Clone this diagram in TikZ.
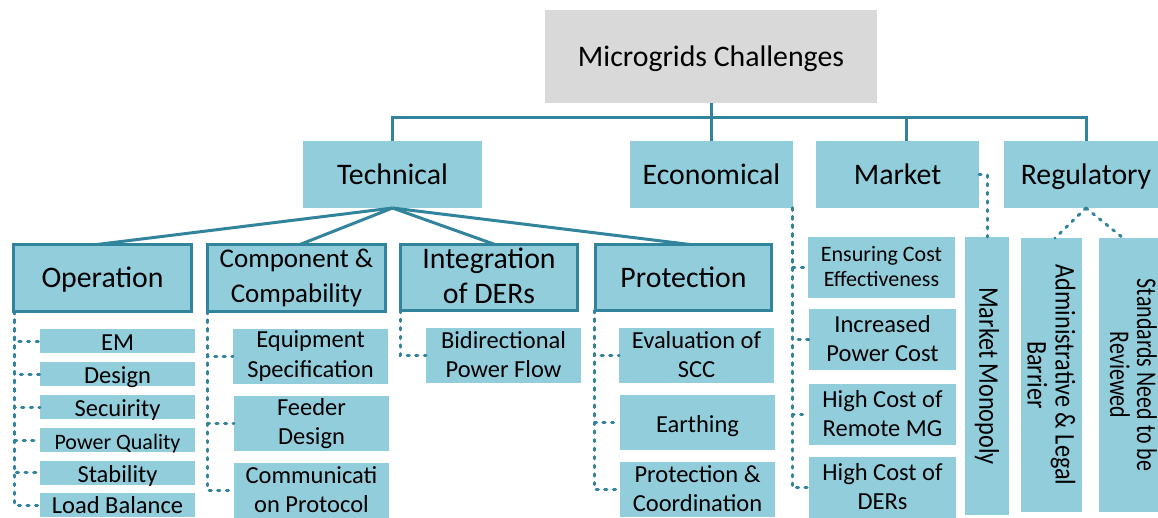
\documentclass[tikz,border=0pt]{standalone}
\usepackage{fontspec}
\setmainfont{Carlito}
\newfontfamily\condfont[FakeStretch=0.85]{Carlito}
\newfontfamily\condfontb[FakeStretch=0.77]{Carlito}
\definecolor{boxfill}{HTML}{92CDDC}
\definecolor{linec}{HTML}{31849B}
\definecolor{rootfill}{HTML}{D9D9D9}
\begin{document}
\begin{tikzpicture}[x=1pt,y=-1pt,
  box/.style={fill=boxfill, inner sep=0pt, outer sep=0pt, align=center, text=black},
  bbox/.style={box, draw=linec, line width=3pt},
  tree/.style={draw=linec, line width=3pt},
  dsh/.style={draw=linec, line width=3pt, line cap=round, dash pattern=on 2.2pt off 6.4pt},
  fA/.style={font=\fontsize{29.8}{35}\selectfont},
  fB/.style={font=\fontsize{27}{35}\selectfont},
  fC/.style={font=\fontsize{24.5}{29.5}\selectfont},
  fD/.style={font=\fontsize{22}{25.5}\selectfont},
  sgl/.style={text height=19pt, text depth=0pt},
  st/.style 2 args={execute at begin node={\rule{0pt}{#1}}, execute at end node={\rule[-#2]{0pt}{0pt}}},
  lvone/.style={box, fA, sgl, minimum height=67pt},
  itone/.style={box, fC, sgl, minimum width=155pt, minimum height=24pt},
  ittwo/.style={box, fC, st={19pt}{2pt}, minimum width=155pt, minimum height=55pt},
  ecbase/.style={box, minimum width=147pt, minimum height=61pt},
  vt/.style={box, rotate=-90, font=\condfont\fontsize{28.5}{28}\selectfont},
]
\useasboundingbox (0,0) rectangle (1158,517);

% root and first level
\node[box, fill=rootfill, fA, sgl, minimum width=332pt, minimum height=93pt] (root) at (711,56.5) {Microgrids Challenges};
\node[lvone, minimum width=179pt] (tech) at (392.5,174.5) {Technical};
\node[lvone, minimum width=163pt] (econ) at (711.5,174.5) {Economical};
\node[lvone, minimum width=163pt] (mkt) at (897.5,174.5) {Market};
\node[lvone, minimum width=164pt] (reg) at (1086,174.5) {Regulatory};

% technical second level
\node[bbox, fA, sgl, minimum width=178pt, minimum height=67pt] (op) at (102.5,278) {Operation};
\node[bbox, fB, minimum width=178pt, minimum height=67pt] (comp) at (296.5,278) {Component \&\\Compability};
\node[bbox, fA, st={0pt}{4pt}, minimum width=177pt, minimum height=66pt] (integ) at (489,277.5) {Integration\\of DERs};
\node[bbox, fA, sgl, minimum width=176pt, minimum height=66pt] (prot) at (683.5,277.5) {Protection};

% operation items
\node[itone] (em) at (117.5,341) {EM};
\node[itone] (des) at (117.5,374) {Design};
\node[itone] (sec) at (117.5,407) {Secuirity};
\node[itone, fD] (pq) at (117.5,440) {Power Quality};
\node[itone] (stab) at (117.5,472.5) {Stability};
\node[itone, text height=17pt] (lb) at (117.5,505) {Load Balance};

% component items
\node[ittwo] (eqs) at (310.5,356) {Equipment\\Specification};
\node[ittwo] (fdr) at (311.5,423.5) {Feeder\\Design};
\node[ittwo] (com) at (311.5,490.5) {Communicati\\on Protocol};

% integration item
\node[ittwo] (bid) at (503.5,355.5) {Bidirectional\\Power Flow};

% protection items
\node[ittwo] (eva) at (696.5,355.5) {Evaluation of\\SCC};
\node[itone, minimum height=55pt] (ear) at (697.5,422.5) {Earthing};
\node[ittwo] (pco) at (697.5,489.5) {Protection \&\\Coordination};

% economical items
\node[ecbase, fD, st={16pt}{2pt}] (ens) at (881.5,267.5) {Ensuring Cost\\Effectiveness};
\node[ecbase, fC, st={19pt}{2pt}] (inc) at (882.5,339.5) {Increased\\Power Cost};
\node[ecbase, fC, st={19pt}{2pt}] (hcr) at (882.5,414.5) {High Cost of\\Remote MG};
\node[ecbase, fC, st={19pt}{2pt}] (hcd) at (882.5,487.5) {High Cost of\\DERs};

% market and regulatory items
\node[vt, minimum width=278pt, minimum height=44pt] (mm) at (987,376) {Market Monopoly};
\node[vt, minimum width=274pt, minimum height=61pt] (adm) at (1051.5,375) {Administrative \& Legal\\Barrier};
\node[vt, minimum width=274pt, minimum height=69pt, font=\condfontb\fontsize{28.5}{27}\selectfont] (std) at (1133.5,375) {Standards Need to be\\Reviewed};

% solid tree
\coordinate (bus) at (711,117);
\draw[tree] (root.south) -- (root.south |- bus);
\draw[tree] (tech.north) -- (tech.north |- bus) -- (reg.north |- bus) -- (reg.north);
\draw[tree] (econ.north) -- (econ.north |- bus);
\draw[tree] ([xshift=8.5pt]mkt.north) -- ([xshift=8.5pt]mkt.north |- bus);

\draw[tree] (tech.south) -- ([xshift=-5.5pt]op.north);
\draw[tree] (tech.south) -- ([xshift=3.5pt]comp.north);
\draw[tree] (tech.south) -- ([xshift=6pt]integ.north);
\draw[tree] (tech.south) -- ([xshift=6.5pt]prot.north);

% dashed connectors
\foreach \n in {em,des,sec,pq,stab,lb} \draw[dsh] ([xshift=0.5pt]op.south west) |- (\n.west);
\foreach \n in {eqs,fdr,com} \draw[dsh] (comp.south west) |- (\n.west);
\draw[dsh] (integ.south west) |- (bid.west);
\foreach \n in {eva,ear,pco} \draw[dsh] ([xshift=-1pt]prot.south west) |- (\n.west);
\foreach \n in {ens,inc,hcr,hcd} \draw[dsh] ([xshift=-1pt]econ.south east) |- (\n.west);
\draw[dsh] (mkt.east) -| (mm.west);
\draw[dsh] (reg.south) -- ([xshift=3.5pt]adm.west);
\draw[dsh] (reg.south) -- ([xshift=-10.5pt]std.west);
\end{tikzpicture}
\end{document}
